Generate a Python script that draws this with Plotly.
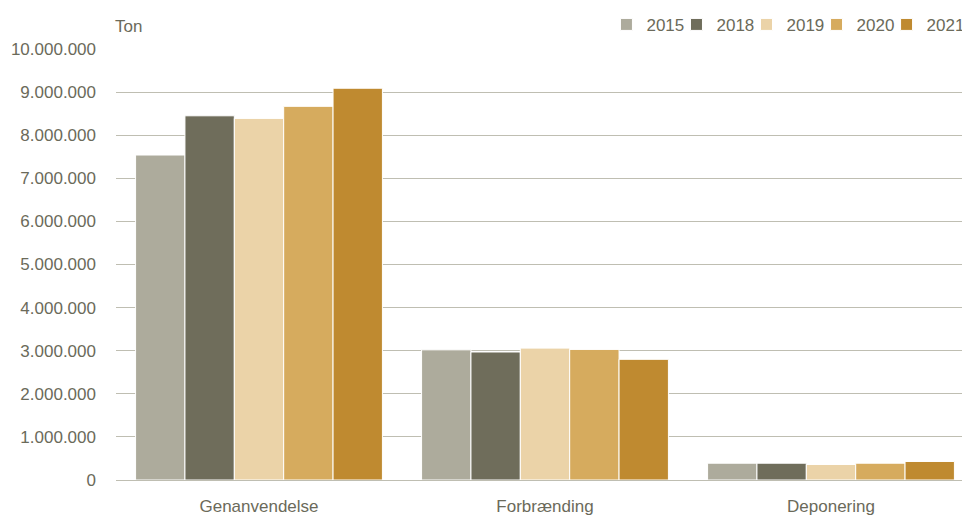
import plotly.graph_objects as go

categories = ["Genanvendelse", "Forbrænding", "Deponering"]
years = ["2015", "2018", "2019", "2020", "2021"]
values_2015 = [7540000, 3020000, 390000]
values_2018 = [8450000, 2970000, 390000]
values_2019 = [8390000, 3060000, 360000]
values_2020 = [8670000, 3030000, 390000]
values_2021 = [9090000, 2800000, 430000]
series = [values_2015, values_2018, values_2019, values_2020, values_2021]
colors = ["#ADAB9C", "#6F6D5B", "#EBD3A8", "#D6AB5E", "#BF8A30"]

txt = "#6B6A5A"
grid = "#BFBEB2"
fnt = "Liberation Sans, Arial, sans-serif"

fig = go.Figure()
legends = {}
for i, (year, vals, col) in enumerate(zip(years, series, colors)):
    lg = "legend" if i == 0 else "legend%d" % (i + 1)
    fig.add_trace(go.Bar(x=categories, y=vals, name=year, legend=lg,
                         marker_color=col, marker_line_color="white", marker_line_width=1))
    # one legend per year so the entries sit close together like the original
    legends[lg] = dict(orientation="h", x=0.5743 + i * 0.082, xanchor="left",
                       y=1.056, yanchor="middle", itemwidth=30,
                       bgcolor="rgba(0,0,0,0)",
                       font=dict(family=fnt, size=17, color=txt))

# page body has an 8px margin, so the figure is sized to fit the window
fig.update_layout(
    width=962, height=508,
    margin=dict(l=108, r=0, t=41, b=36, autoexpand=False),
    plot_bgcolor="white", paper_bgcolor="white",
    barmode="group", bargap=0.137, bargroupgap=0,
    separators=",.",
    font=dict(family=fnt, size=17, color=txt),
    showlegend=True,
    annotations=[dict(text="Ton", xref="paper", yref="paper", x=-0.004, y=1.052,
                      xanchor="left", yanchor="middle", showarrow=False,
                      font=dict(family=fnt, size=17, color=txt))],
    **legends,
)
fig.update_yaxes(range=[0, 10000000], dtick=1000000, tickformat=",d",
                 gridcolor=grid, gridwidth=1, zeroline=False,
                 showline=False, ticks="", ticklabelstandoff=19, automargin=False)
fig.update_xaxes(range=[-0.5, 2.486], showline=True, linecolor=grid, linewidth=1,
                 ticks="", ticklabelstandoff=11,
                 tickfont=dict(family=fnt, size=17, color=txt), automargin=False)

fig.write_html("out.html")
